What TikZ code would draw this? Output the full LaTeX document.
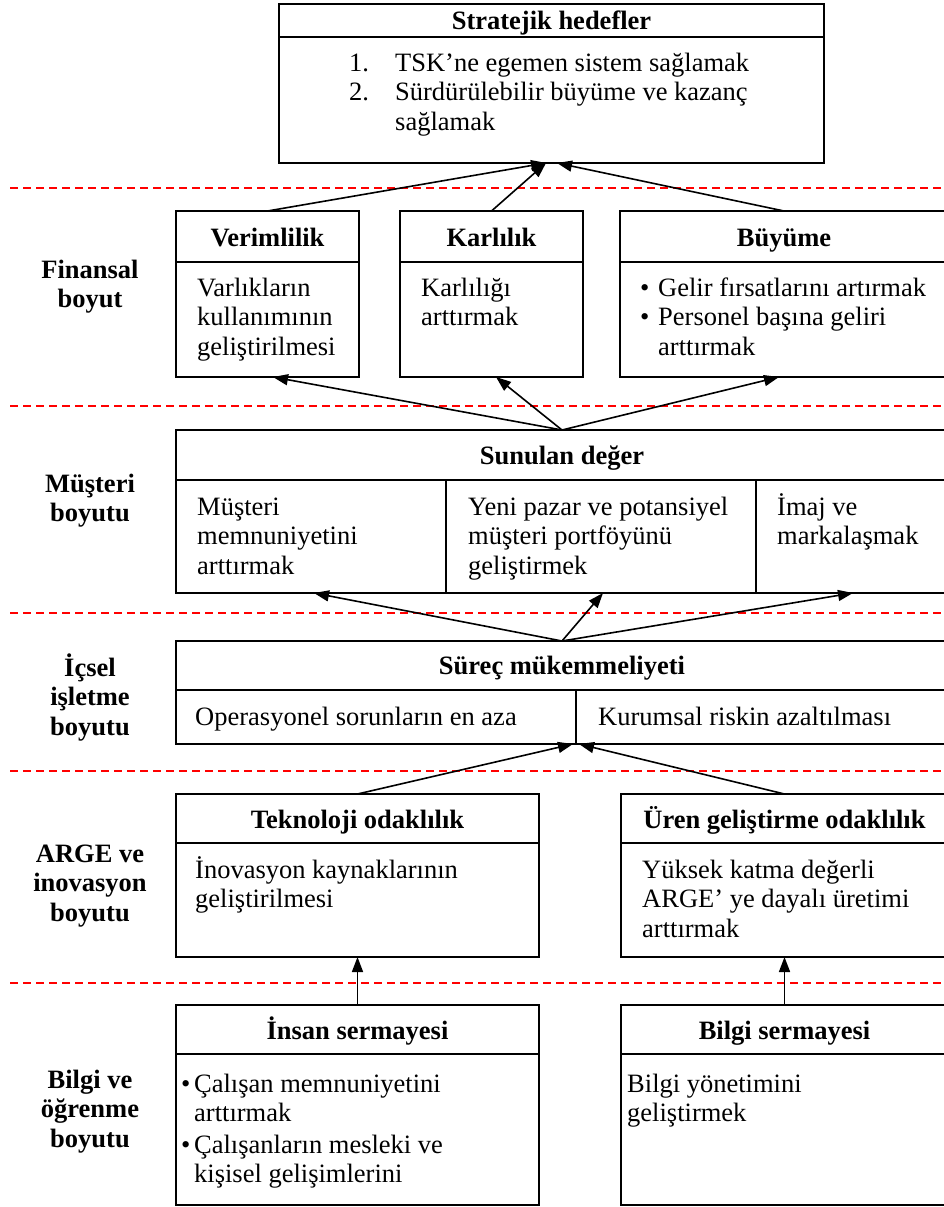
\documentclass[tikz,border=0pt]{standalone}
\usepackage{fontspec}
\setmainfont{Liberation Serif}
\usetikzlibrary{arrows.meta,calc}
\begin{document}
\begin{tikzpicture}[x=1pt,y=-1pt,
  box/.style={draw,line width=1.4pt,rectangle,inner sep=0pt,outer sep=0pt,anchor=north west},
  sepline/.style={line width=1.4pt},
  ttl/.style={font=\fontsize{26.5}{29.5}\selectfont\bfseries,anchor=base,inner sep=0pt},
  body/.style={font=\fontsize{26.5}{29.5}\selectfont,anchor=base west,inner sep=0pt},
  lbl/.style={font=\fontsize{26.5}{29.5}\selectfont\bfseries,anchor=base,inner sep=0pt},
  arr/.style={line width=1.6pt,-{Triangle[length=15pt,width=11pt]}},
  reddash/.style={draw=red,line width=1.5pt,dash pattern=on 8pt off 5pt}]
\useasboundingbox (0,0) rectangle (943,1207);

% red separators
\draw[reddash] (10,188) -- (943,188);
\draw[reddash] (10,406) -- (943,406);
\draw[reddash] (10,613) -- (943,613);
\draw[reddash] (10,771) -- (943,771);
\draw[reddash] (10,983) -- (943,983);

% boxes
\node[box,minimum width=545pt,minimum height=159pt] (str) at (279,4) {};
\node[box,minimum width=183pt,minimum height=166pt] (ver) at (176,211) {};
\node[box,minimum width=183pt,minimum height=166pt] (kar) at (400,211) {};
\node[box,minimum width=328pt,minimum height=166pt] (buy) at (620,211) {};
\node[box,minimum width=772pt,minimum height=163pt] (sun) at (176,430) {};
\node[box,minimum width=772pt,minimum height=103pt] (sur) at (176,641) {};
\node[box,minimum width=363pt,minimum height=163pt] (tek) at (176,794) {};
\node[box,minimum width=327pt,minimum height=163pt] (ure) at (621,794) {};
\node[box,minimum width=363pt,minimum height=200pt] (ins) at (176,1005) {};
\node[box,minimum width=327pt,minimum height=200pt] (bil) at (621,1005) {};

% header lines and dividers
\draw[sepline] (279,37) -- (824,37);
\draw[sepline] (176,262) -- (359,262);
\draw[sepline] (400,262) -- (583,262);
\draw[sepline] (620,262) -- (948,262);
\draw[sepline] (176,480) -- (948,480);
\draw[sepline] (446,480) -- (446,593);
\draw[sepline] (756,480) -- (756,593);
\draw[sepline] (176,690) -- (948,690);
\draw[line width=2.4pt] (576,690) -- (576,744);
\draw[sepline] (176,843) -- (539,843);
\draw[sepline] (621,843) -- (948,843);
\draw[sepline] (176,1054) -- (539,1054);
\draw[sepline] (621,1054) -- (948,1054);

% titles
\node[ttl] (strT) at (551.5,29.5) {Stratejik hedefler};
\node[ttl] (verT) at (267.5,246) {Verimlilik};
\node[ttl] (karT) at (491.5,246) {Karlılık};
\node[ttl] (buyT) at (784,246) {Büyüme};
\node[ttl] (sunT) at (562,464) {Sunulan değer};
\node[ttl] (surT) at (562,674) {Süreç mükemmeliyeti};
\node[ttl] (tekT) at (357.5,828) {Teknoloji odaklılık};
\node[ttl] (ureT) at (784.5,828) {Üren geliştirme odaklılık};
\node[ttl] (insT) at (357.5,1039) {İnsan sermayesi};
\node[ttl] (bilT) at (784.5,1039) {Bilgi sermayesi};

% body texts
\node[body] (strB) at (349,71) {\begin{tabular}[t]{@{}p{46pt}@{}l@{}}
1. & TSK’ne egemen sistem sağlamak\\
2. & Sürdürülebilir büyüme ve kazanç\\
 & sağlamak\end{tabular}};
\node[body] (verB) at (197,296) {\begin{tabular}[t]{@{}l@{}}Varlıkların\\kullanımının\\geliştirilmesi\end{tabular}};
\node[body] (karB) at (421,296) {\begin{tabular}[t]{@{}l@{}}Karlılığı\\arttırmak\end{tabular}};
\node[body] (buyB) at (640,296) {\begin{tabular}[t]{@{}p{18pt}@{}l@{}}
• & Gelir fırsatlarını artırmak\\
• & Personel başına geliri\\
 & arttırmak\end{tabular}};
\node[body] (sunB1) at (197,515) {\begin{tabular}[t]{@{}l@{}}Müşteri\\memnuniyetini\\arttırmak\end{tabular}};
\node[body] (sunB2) at (468,515) {\begin{tabular}[t]{@{}l@{}}Yeni pazar ve potansiyel\\müşteri portföyünü\\geliştirmek\end{tabular}};
\node[body] (sunB3) at (777,515) {\begin{tabular}[t]{@{}l@{}}İmaj ve\\markalaşmak\end{tabular}};
\node[body] (surB1) at (195,725) {Operasyonel sorunların en aza};
\node[body] (surB2) at (598,725) {Kurumsal riskin azaltılması};
\node[body] (tekB) at (195,878) {\begin{tabular}[t]{@{}l@{}}İnovasyon kaynaklarının\\geliştirilmesi\end{tabular}};
\node[body] (ureB) at (642,878) {\begin{tabular}[t]{@{}l@{}}Yüksek katma değerli\\ARGE’ ye dayalı üretimi\\arttırmak\end{tabular}};
\node[body] (insB) at (181,1092) {\begin{tabular}[t]{@{}p{13pt}@{}l@{}}
• & Çalışan memnuniyetini\\
 & arttırmak\\[2pt]
• & Çalışanların mesleki ve\\
 & kişisel gelişimlerini\end{tabular}};
\node[body] (bilB) at (627,1092) {\begin{tabular}[t]{@{}l@{}}Bilgi yönetimini\\geliştirmek\end{tabular}};

% side labels
\node[lbl] (l1) at (90,278) {\begin{tabular}[t]{@{}c@{}}Finansal\\boyut\end{tabular}};
\node[lbl] (l2) at (90,492) {\begin{tabular}[t]{@{}c@{}}Müşteri\\boyutu\end{tabular}};
\node[lbl] (l3) at (90,676) {\begin{tabular}[t]{@{}c@{}}İçsel\\işletme\\boyutu\end{tabular}};
\node[lbl] (l4) at (90,862) {\begin{tabular}[t]{@{}c@{}}ARGE ve\\inovasyon\\boyutu\end{tabular}};
\node[lbl] (l5) at (90,1088) {\begin{tabular}[t]{@{}c@{}}Bilgi ve\\öğrenme\\boyutu\end{tabular}};

% arrow end points
\coordinate (strL) at (546,163);
\coordinate (strR) at (557,163);
\coordinate (verBot) at (273,377);
\coordinate (karBot) at (496,377);
\coordinate (buyBot) at (779,377);
\coordinate (sunBot1) at (314,593);
\coordinate (sunBot2) at (603,593);
\coordinate (sunBot3) at (853,593);
\coordinate (surBotL) at (573,744);
\coordinate (surBotR) at (579,744);

% arrows
\draw[arr] (ver.north) -- (strL);
\draw[arr] (kar.north) -- (strL);
\draw[arr] (buy.north) -- (strR);
\draw[arr] (sun.north) -- (verBot);
\draw[arr] (sun.north) -- (karBot);
\draw[arr] (sun.north) -- (buyBot);
\draw[arr] (sur.north) -- (sunBot1);
\draw[arr] (sur.north) -- (sunBot2);
\draw[arr] (sur.north) -- (sunBot3);
\draw[arr] (tek.north) -- (surBotL);
\draw[arr] (ure.north) -- (surBotR);
\draw[arr] (ins.north) -- (tek.south);
\draw[arr] (bil.north) -- (ure.south);
\end{tikzpicture}
\end{document}
